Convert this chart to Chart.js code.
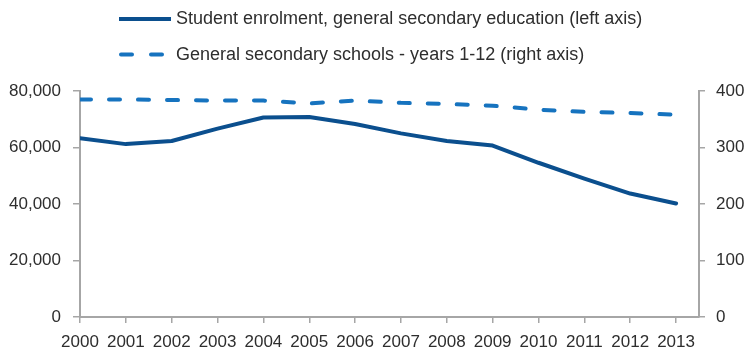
<!DOCTYPE html>
<html>
<head>
<meta charset="utf-8">
<script src="https://cdn.jsdelivr.net/npm/chart.js@4/dist/chart.umd.min.js"></script>
<style>
  html, body { margin: 0; padding: 0; background: #ffffff; }
  #wrap { position: relative; width: 747px; height: 349px; }
</style>
</head>
<body>
<div id="wrap"><canvas id="chart" width="747" height="349"></canvas></div>
<script>
// Years on the horizontal axis
const years = [2000, 2001, 2002, 2003, 2004, 2005, 2006, 2007, 2008, 2009, 2010, 2011, 2012, 2013];

// Student enrolment in general secondary education (left axis)
const enrolment = [63300, 61200, 62300, 66700, 70600, 70800, 68300, 65000, 62300, 60700, 54600, 49000, 43700, 40200];

// Number of general secondary schools, years 1-12 (right axis)
const schools = [385, 385, 384, 383, 383, 378, 383, 379, 377, 374, 367, 363, 361, 358];

// Series labels
const seriesLabels = [
  'Student enrolment, general secondary education (left axis)',
  'General secondary schools - years 1-12 (right axis)'
];

// Tick values on both value axes
const leftAxisTicks = [0, 20000, 40000, 60000, 80000];
const rightAxisTicks = [0, 100, 200, 300, 400];

const AXIS_GREY = '#a6a6a6';
const TEXT_COL = '#2e2e2e';
const TICK_FONT = { family: "'Liberation Sans', Arial, sans-serif", size: 17 };
const LEGEND_FONT = "18px 'Liberation Sans', Arial, sans-serif";

// Vertical legend drawn above the plot: one line sample per series
const stackedLegend = {
  id: 'stackedLegend',
  afterDraw(chart) {
    const ctx = chart.ctx;
    const rows = [19, 54.5];
    chart.data.datasets.forEach((ds, i) => {
      const y = rows[i];
      const dashed = ds.borderDash && ds.borderDash.length;
      ctx.save();
      ctx.strokeStyle = ds.borderColor;
      ctx.lineWidth = ds.borderWidth;
      ctx.lineCap = dashed ? 'round' : 'butt';
      ctx.setLineDash(dashed ? [11, 19] : []);
      ctx.beginPath();
      if (dashed) {
        ctx.moveTo(121, y);
        ctx.lineTo(162, y);
      } else {
        ctx.moveTo(119, y);
        ctx.lineTo(171, y);
      }
      ctx.stroke();
      ctx.setLineDash([]);
      ctx.fillStyle = TEXT_COL;
      ctx.font = LEGEND_FONT;
      ctx.textBaseline = 'middle';
      ctx.textAlign = 'left';
      ctx.fillText(ds.label, 176, y + 0.5);
      ctx.restore();
    });
  }
};

new Chart(document.getElementById('chart'), {
  type: 'line',
  data: {
    datasets: [
      {
        label: seriesLabels[0],
        data: years.map((yr, i) => ({ x: yr, y: enrolment[i] })),
        yAxisID: 'yLeft',
        borderColor: '#0b4f8e',
        borderWidth: 4,
        borderJoinStyle: 'round',
        borderCapStyle: 'round',
        pointRadius: 0,
        tension: 0,
        fill: false
      },
      {
        label: seriesLabels[1],
        data: years.map((yr, i) => ({ x: yr, y: schools[i] })),
        yAxisID: 'yRight',
        borderColor: '#1673bf',
        borderWidth: 4,
        borderDash: [11, 18],
        borderCapStyle: 'round',
        borderJoinStyle: 'round',
        pointRadius: 0,
        tension: 0,
        fill: false
      }
    ]
  },
  options: {
    responsive: false,
    animation: false,
    events: [],
    layout: { padding: { top: 91, left: 0, right: 0, bottom: 0 } },
    plugins: {
      legend: { display: false },
      tooltip: { enabled: false },
      title: { display: false }
    },
    scales: {
      x: {
        type: 'linear',
        min: years[0],
        max: years[years.length - 1] + 0.5,
        afterBuildTicks(scale) {
          scale.ticks = years.map(v => ({ value: v }));
        },
        afterFit(scale) { scale.height = 32; },
        border: { display: true, color: AXIS_GREY, width: 2 },
        grid: { drawOnChartArea: false, drawTicks: true, tickLength: 6, color: AXIS_GREY, lineWidth: 1.5 },
        ticks: {
          color: TEXT_COL,
          font: TICK_FONT,
          padding: 9,
          maxRotation: 0,
          autoSkip: false,
          callback: v => String(v)
        }
      },
      yLeft: {
        type: 'linear',
        position: 'left',
        min: leftAxisTicks[0],
        max: leftAxisTicks[leftAxisTicks.length - 1],
        afterBuildTicks(scale) {
          scale.ticks = leftAxisTicks.map(v => ({ value: v }));
        },
        afterFit(scale) { scale.width = 80; },
        border: { display: true, color: AXIS_GREY, width: 2 },
        grid: { drawOnChartArea: false, drawTicks: true, tickLength: 7, color: AXIS_GREY, lineWidth: 1.5 },
        ticks: {
          color: TEXT_COL,
          font: TICK_FONT,
          padding: 12,
          callback: v => v.toLocaleString('en-US')
        }
      },
      yRight: {
        type: 'linear',
        position: 'right',
        min: rightAxisTicks[0],
        max: rightAxisTicks[rightAxisTicks.length - 1],
        afterBuildTicks(scale) {
          scale.ticks = rightAxisTicks.map(v => ({ value: v }));
        },
        afterFit(scale) { scale.width = 48; },
        border: { display: true, color: AXIS_GREY, width: 2 },
        grid: { drawOnChartArea: false, drawTicks: true, tickLength: 6, color: AXIS_GREY, lineWidth: 1.5 },
        ticks: {
          color: TEXT_COL,
          font: TICK_FONT,
          padding: 11,
          callback: v => String(v)
        }
      }
    }
  },
  plugins: [stackedLegend]
});
</script>
</body>
</html>
